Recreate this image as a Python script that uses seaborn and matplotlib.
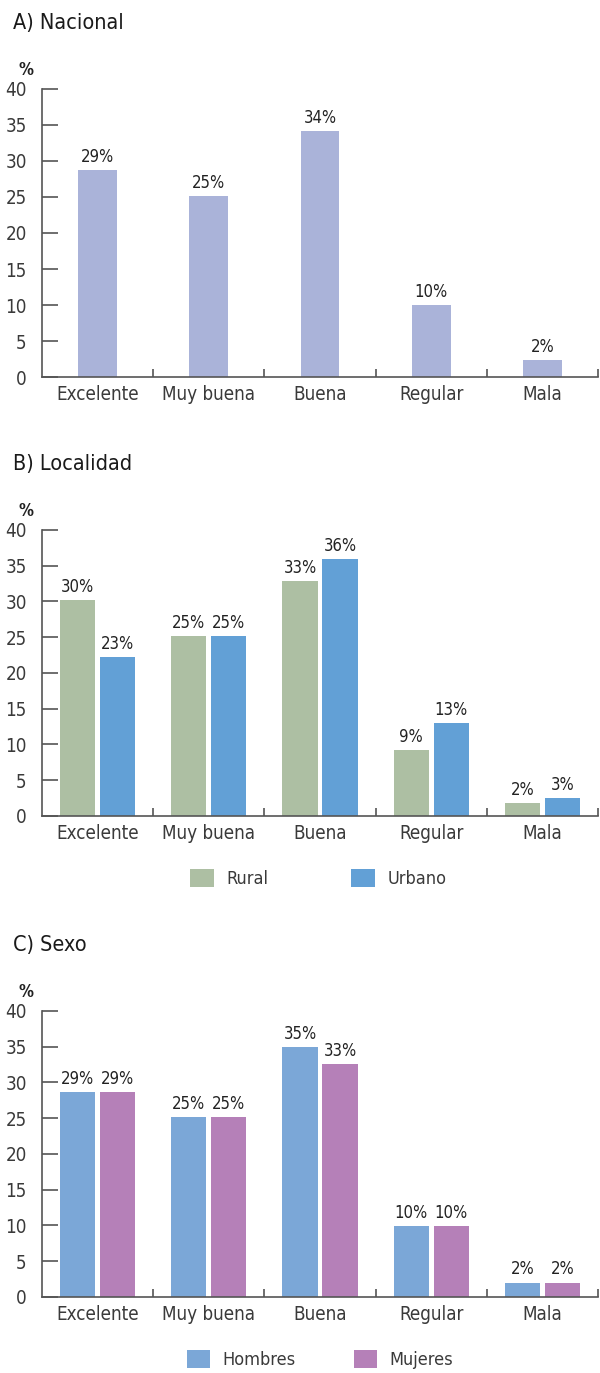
import numpy as np
import pandas as pd
import seaborn as sns
import matplotlib.pyplot as plt

# categories and values
categorias = ["Excelente", "Muy buena", "Buena", "Regular", "Mala"]

nacional = [28.7, 25.1, 34.2, 10.0, 2.3]
nacional_lbl = ["29%", "25%", "34%", "10%", "2%"]

rural = [30.2, 25.2, 32.8, 9.2, 1.8]
urbano = [22.2, 25.2, 35.9, 13.0, 2.5]
rural_lbl = ["30%", "25%", "33%", "9%", "2%"]
urbano_lbl = ["23%", "25%", "36%", "13%", "3%"]

hombres = [28.6, 25.1, 35.0, 9.9, 2.0]
mujeres = [28.6, 25.1, 32.6, 9.9, 2.0]
hombres_lbl = ["29%", "25%", "35%", "10%", "2%"]
mujeres_lbl = ["29%", "25%", "33%", "10%", "2%"]

yticks = [0, 5, 10, 15, 20, 25, 30, 35, 40]

sns.set_style("white")
plt.rcParams['font.family'] = ['DejaVu Sans']
plt.rcParams['font.stretch'] = 'condensed'

AX_COL = "#555555"
TXT_COL = "#3a3a3a"

fig = plt.figure(figsize=(6, 13.73), dpi=100)

# axes rectangles (left, bottom, width, height) in figure fraction
ax_a = fig.add_axes([0.07, 0.7254, 0.9267, 0.2098])
ax_b = fig.add_axes([0.07, 0.4057, 0.9267, 0.2083])
ax_c = fig.add_axes([0.07, 0.0554, 0.9267, 0.2083])


def style_axis(ax, titulo):
    ax.set_ylim(0, 40)
    ax.set_xlim(-0.5, 4.5)
    ax.set_yticks(yticks)
    ax.set_xlabel("")
    ax.set_ylabel("")
    for s in ["top", "right"]:
        ax.spines[s].set_visible(False)
    for s in ["left", "bottom"]:
        ax.spines[s].set_color(AX_COL)
        ax.spines[s].set_linewidth(1.2)
    ax.tick_params(axis="y", left=True, direction="in", length=11.5, width=1.2,
                   color=AX_COL, labelsize=13.5, labelcolor=TXT_COL, pad=11)
    ax.tick_params(axis="x", which="major", length=0, labelsize=13.5,
                   labelcolor=TXT_COL, pad=6)
    ax.set_xticks([0.5, 1.5, 2.5, 3.5, 4.5], minor=True)
    ax.tick_params(axis="x", which="minor", bottom=True, direction="in",
                   length=6, width=1.2, color=AX_COL)
    ax.text(-0.043, 1.035, "%", transform=ax.transAxes, fontsize=12,
            fontweight="bold", color="#222222", ha="left", va="bottom")
    ax.text(-0.052, 1.23, titulo, transform=ax.transAxes, fontsize=15.5,
            color="#1a1a1a", ha="left", va="center")


# A) Nacional
df_a = pd.DataFrame({"cat": categorias, "val": nacional})
sns.barplot(data=df_a, x="cat", y="val", color="#aab3d9", width=0.35,
            saturation=1, linewidth=0, ax=ax_a)
ax_a.bar_label(ax_a.containers[0], labels=nacional_lbl, padding=3,
               fontsize=12, color="#222222")
style_axis(ax_a, "A) Nacional")

# B) Localidad
df_b = pd.DataFrame({
    "cat": categorias * 2,
    "val": rural + urbano,
    "grupo": ["Rural"] * 5 + ["Urbano"] * 5,
})
sns.barplot(data=df_b, x="cat", y="val", hue="grupo",
            palette=["#adbfa3", "#62a0d6"], width=0.72, gap=0.12,
            saturation=1, linewidth=0, ax=ax_b)
for cont, lbl in zip(ax_b.containers, [rural_lbl, urbano_lbl]):
    ax_b.bar_label(cont, labels=lbl, padding=3, fontsize=12, color="#222222")
style_axis(ax_b, "B) Localidad")
ax_b.legend(loc="center", bbox_to_anchor=(0.497, -0.218), ncol=2, frameon=False,
            fontsize=13, handlelength=1.3, handleheight=1.15,
            handletextpad=0.7, columnspacing=4.6, labelcolor=TXT_COL)

# C) Sexo
df_c = pd.DataFrame({
    "cat": categorias * 2,
    "val": hombres + mujeres,
    "grupo": ["Hombres"] * 5 + ["Mujeres"] * 5,
})
sns.barplot(data=df_c, x="cat", y="val", hue="grupo",
            palette=["#7ba7d7", "#b580b8"], width=0.72, gap=0.12,
            saturation=1, linewidth=0, ax=ax_c)
for cont, lbl in zip(ax_c.containers, [hombres_lbl, mujeres_lbl]):
    ax_c.bar_label(cont, labels=lbl, padding=3, fontsize=12, color="#222222")
style_axis(ax_c, "C) Sexo")
ax_c.legend(loc="center", bbox_to_anchor=(0.5, -0.22), ncol=2, frameon=False,
            fontsize=13, handlelength=1.3, handleheight=1.15,
            handletextpad=0.7, columnspacing=3.2, labelcolor=TXT_COL)

fig.savefig("out.png", dpi=100)
